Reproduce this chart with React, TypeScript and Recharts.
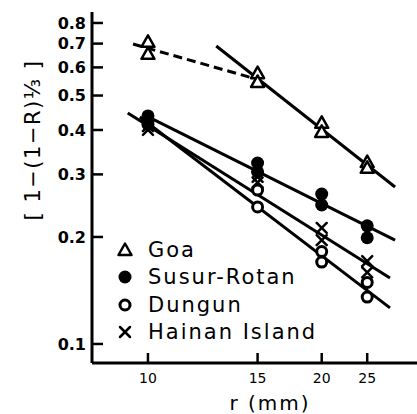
import React from 'react';
import { ComposedChart, XAxis, YAxis, Line, Scatter, Legend } from 'recharts';

// ---- data ----
const pointR = [10, 10, 15, 15, 20, 20, 25, 25];
const goaValues = [0.708, 0.655, 0.578, 0.546, 0.419, 0.395, 0.325, 0.313];
const susurValues = [0.438, 0.427, 0.323, 0.305, 0.264, 0.246, 0.215, 0.199];
const dungunValues = [0.425, 0.415, 0.271, 0.243, 0.182, 0.17, 0.149, 0.1355];
const hainanValues = [0.41, 0.4, 0.295, 0.285, 0.212, 0.196, 0.171, 0.159];

// fitted lines (end points)
const goaDashR = [9.55, 14.7];
const goaDashV = [0.698, 0.56];
const goaFitR = [12.7, 28.85];
const goaFitV = [0.689, 0.2765];
const susurFitR = [9.9, 28.85];
const susurFitV = [0.4406, 0.196];
const dungunFitR = [9.75, 28.1];
const dungunFitV = [0.435, 0.1263];
const hainanFitR = [9.4, 28.1];
const hainanFitV = [0.4466, 0.1534];

const xTickLabels = [10, 15, 20, 25];
const yTicks = [0.1, 0.2, 0.3, 0.4, 0.5, 0.6, 0.7, 0.8];
const legendNames = ['Goa', 'Susur-Rotan', 'Dungun', 'Hainan Island'];
const legendShapes = ['triangle', 'filled', 'open', 'cross'];

// the reference's r axis is spaced as log(r - 5)
const R_SHIFT = 5;
const toPts = (rs: number[], vs: number[]) => rs.map((r, i) => ({ xs: r - R_SHIFT, v: vs[i] }));

const FONT = '"DejaVu Sans", sans-serif';
const INK = '#000';

const drawMarker = (kind: string, cx: number, cy: number) => {
  if (cx == null || cy == null || isNaN(cx) || isNaN(cy)) return <g />;
  if (kind === 'triangle')
    return (
      <path
        d={`M${cx},${cy - 6.5} L${cx + 6.5},${cy + 5} L${cx - 6.5},${cy + 5} Z`}
        fill="#fff"
        stroke={INK}
        strokeWidth={2.5}
        strokeLinejoin="round"
      />
    );
  if (kind === 'filled') return <circle cx={cx} cy={cy} r={6.5} fill={INK} />;
  if (kind === 'open') return <circle cx={cx} cy={cy} r={5} fill="#fff" stroke={INK} strokeWidth={3} />;
  return (
    <g stroke={INK} strokeWidth={2.5} strokeLinecap="round">
      <line x1={cx - 5} y1={cy - 5} x2={cx + 5} y2={cy + 5} />
      <line x1={cx - 5} y1={cy + 5} x2={cx + 5} y2={cy - 5} />
    </g>
  );
};

const shapeFor = (kind: string) => (p: any) => drawMarker(kind, p.cx, p.cy);

const YTick = (p: any) => {
  const { x, y, payload } = p;
  return (
    <g>
      <line x1={x} x2={x + 11} y1={y} y2={y} stroke={INK} strokeWidth={2.5} />
      <text x={x - 6} y={y} dy="0.36em" textAnchor="end" fontFamily={FONT} fontWeight="bold" fontSize={16} fill={INK}>
        {Number(payload.value).toFixed(1)}
      </text>
    </g>
  );
};

const XTick = (p: any) => {
  const { x, y, payload } = p;
  return (
    <g>
      <line x1={x} x2={x} y1={y} y2={y - 10} stroke={INK} strokeWidth={2.5} />
      <text x={x} y={y + 15} dy="0.36em" textAnchor="middle" fontFamily={FONT} fontSize={14} fill={INK}>
        {Math.round(payload.value + R_SHIFT)}
      </text>
    </g>
  );
};

const LegendBox = () => (
  <div style={{ fontFamily: FONT, fontSize: 21, letterSpacing: 2, color: INK }}>
    {legendNames.map((name, i) => (
      <div key={name} style={{ display: 'flex', alignItems: 'center', height: 27.5, whiteSpace: 'nowrap' }}>
        <svg width={18} height={18} style={{ overflow: 'visible' }}>
          {drawMarker(legendShapes[i], 9, 9)}
        </svg>
        <span style={{ marginLeft: 14 }}>{name}</span>
      </div>
    ))}
  </div>
);

export default function App() {
  return (
    <div style={{ position: 'absolute', left: 0, top: 0, width: 417, height: 414, background: '#fff' }}>
      <ComposedChart width={417} height={414} margin={{ top: 12, right: 0, bottom: 0, left: 0 }}>
        <XAxis
          type="number"
          dataKey="xs"
          scale="log"
          domain={[3.51, 27.4]}
          allowDataOverflow
          ticks={xTickLabels.map((t) => t - R_SHIFT)}
          interval={0}
          height={51}
          tickSize={0}
          tickMargin={0}
          tick={<XTick />}
          axisLine={{ stroke: INK, strokeWidth: 3 }}
          tickLine={false}
          label={{
            content: () => (
              <text x={270} y={403} dy="0.36em" textAnchor="middle" fontFamily={FONT} fontSize={20} letterSpacing={2} fill={INK}>
                r (mm)
              </text>
            ),
          }}
        />
        <YAxis
          type="number"
          dataKey="v"
          scale="log"
          domain={[0.0884, 0.859]}
          allowDataOverflow
          ticks={yTicks}
          interval={0}
          width={92}
          tickSize={0}
          tickMargin={0}
          tick={<YTick />}
          axisLine={{ stroke: INK, strokeWidth: 3 }}
          tickLine={false}
          label={{
            content: () => (
              <text
                x={32}
                y={140}
                dy="0.36em"
                textAnchor="middle"
                transform="rotate(-90 32 140)"
                fontFamily={FONT}
                fontSize={21}
                letterSpacing={1.5}
                fill={INK}
              >
                [ 1−(1−R)⅓ ]
              </text>
            ),
          }}
        />
        <Line data={toPts(goaDashR, goaDashV)} dataKey="v" stroke={INK} strokeWidth={3} strokeDasharray="9 5" dot={false} isAnimationActive={false} />
        <Line data={toPts(goaFitR, goaFitV)} dataKey="v" stroke={INK} strokeWidth={3} dot={false} isAnimationActive={false} />
        <Line data={toPts(susurFitR, susurFitV)} dataKey="v" stroke={INK} strokeWidth={3} dot={false} isAnimationActive={false} />
        <Line data={toPts(dungunFitR, dungunFitV)} dataKey="v" stroke={INK} strokeWidth={3} dot={false} isAnimationActive={false} />
        <Line data={toPts(hainanFitR, hainanFitV)} dataKey="v" stroke={INK} strokeWidth={3} dot={false} isAnimationActive={false} />
        <Scatter name="Goa" data={toPts(pointR, goaValues)} dataKey="v" shape={shapeFor('triangle')} isAnimationActive={false} />
        <Scatter name="Dungun" data={toPts(pointR, dungunValues)} dataKey="v" shape={shapeFor('open')} isAnimationActive={false} />
        <Scatter name="Susur-Rotan" data={toPts(pointR, susurValues)} dataKey="v" shape={shapeFor('filled')} isAnimationActive={false} />
        <Scatter name="Hainan Island" data={toPts(pointR, hainanValues)} dataKey="v" shape={shapeFor('cross')} isAnimationActive={false} />
        <Legend
          layout="vertical"
          align="center"
          verticalAlign="middle"
          wrapperStyle={{ left: 116, top: 236, width: 260 }}
          content={() => <LegendBox />}
        />
      </ComposedChart>
    </div>
  );
}
